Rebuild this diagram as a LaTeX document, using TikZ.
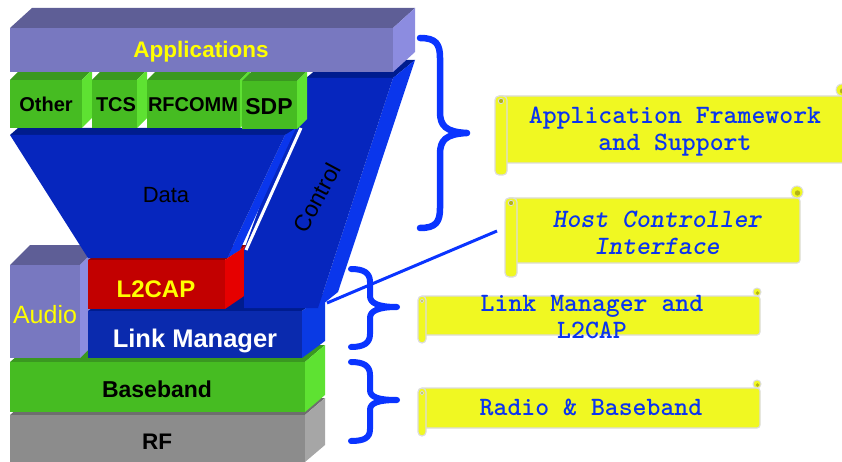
\documentclass[tikz,border=0pt]{standalone}
\usepackage{fontspec}
\setmainfont{Liberation Sans}
\usetikzlibrary{calc}

% colours of the protocol stack
\definecolor{appfront}{HTML}{7878C0}
\definecolor{apptop}{HTML}{5E5E96}
\definecolor{appside}{HTML}{8C8CE0}
\definecolor{grnfront}{HTML}{46BC22}
\definecolor{grntop}{HTML}{3A9820}
\definecolor{grnside}{HTML}{5EE232}
\definecolor{datfront}{HTML}{0626BE}
\definecolor{dattop}{HTML}{001C8E}
\definecolor{datside}{HTML}{0A36EC}
\definecolor{redfront}{HTML}{C20000}
\definecolor{redtop}{HTML}{900000}
\definecolor{redside}{HTML}{E60000}
\definecolor{lmfront}{HTML}{0A2AAE}
\definecolor{lmtop}{HTML}{001C8E}
\definecolor{lmside}{HTML}{0A3AE4}
\definecolor{rffront}{HTML}{8C8C8C}
\definecolor{rftop}{HTML}{6E6E6E}
\definecolor{rfside}{HTML}{A6A6A6}
% colours of braces and scrolls
\definecolor{braceblue}{HTML}{0A34FF}
\definecolor{scrollfill}{HTML}{F0F822}
\definecolor{scrolledge}{HTML}{DCDCDC}
\definecolor{scrollcurl}{HTML}{B4B414}
\definecolor{scrolltext}{HTML}{0A34F0}
\definecolor{labelyellow}{HTML}{FFFF00}

% a block with front face, top face and right side face
% #1,#2 front top-left; #3,#4 front bottom-right; #5,#6 depth; #7 colour prefix
\newcommand{\slab}[7]{%
  \fill[#7top] (#1,#2) -- (#1+#5,#2-#6) -- (#3+#5,#2-#6) -- (#3,#2) -- cycle;
  \fill[#7side] (#3,#2) -- (#3+#5,#2-#6) -- (#3+#5,#4-#6) -- (#3,#4) -- cycle;
  \fill[#7front] (#1,#2) rectangle (#3,#4);}

% a scroll banner: #1,#2 top-left; #3,#4 bottom-right; #5 bottom of the roll; #6 curl radius
\newcommand{\scrollshape}[6]{%
  \filldraw[fill=scrollfill, draw=scrolledge, line width=1.2pt, rounded corners=3pt]
    (#1,#2) rectangle (#3,#4);
  \filldraw[fill=scrollfill, draw=scrolledge, line width=1pt] (#3-3,#2-#6) circle[radius=#6pt];
  \fill[scrollcurl] (#3-2.5,#2-#6+1) circle[radius=#6pt*0.45];
  \filldraw[fill=scrollfill, draw=scrolledge, line width=1.2pt, rounded corners=4pt]
    (#1-2,#2) rectangle (#1-2+2*#6,#5);
  \filldraw[fill=scrollcurl, draw=scrolledge, line width=0.8pt] (#1-2+#6,#2+5) circle[radius=#6pt*0.45];}

\begin{document}
\begin{tikzpicture}[x=1pt,y=-1pt,
  stacktxt/.style={inner sep=0pt, anchor=base},
  brace/.style={draw=braceblue, line width=6.5pt, line cap=round, line join=round},
  scrolltxt/.style={font=\ttfamily\bfseries\fontsize{26.5}{27}\selectfont, text=scrolltext,
    align=center, inner sep=0pt}]
\useasboundingbox (0,0) rectangle (842,462);

% ---- lower layers
\slab{10}{415}{305}{462}{20}{17}{rf}
\slab{10}{362}{305}{412}{20}{17}{grn}
\slab{10}{265}{80}{358}{20}{20}{app}
\slab{88}{311}{302}{358}{23}{17}{lm}
\slab{88}{260}{225}{309}{22}{15}{red}

% ---- control channel
\fill[dattop] (306,78) -- (328,60) -- (415,60) -- (393,78) -- cycle;
\fill[datside] (393,78) -- (415,60) -- (338,292) -- (318,308) -- cycle;
\fill[datfront] (306,78) -- (393,78) -- (318,308) -- (244,308) -- (244,250) -- cycle;

% ---- data funnel
\fill[dattop] (10,135) -- (18,128) -- (297,128) -- (285,135) -- cycle;
\fill[datside] (285,135) -- (296,128) -- (240,250) -- (227,258) -- cycle;
\fill[datfront] (10,135) -- (285,135) -- (227,258) -- (88,258) -- cycle;
\draw[white, line width=3pt] (301,128) -- (246,250);

% ---- upper protocols
\slab{10}{80}{82}{128}{10}{10}{grn}
\slab{92}{80}{137}{128}{10}{10}{grn}
\slab{147}{80}{240}{128}{10}{10}{grn}
\slab{242}{81}{297}{129}{10}{10}{grn}
\slab{10}{28}{393}{72}{22}{20}{app}

% ---- layer names
\node[stacktxt, text=labelyellow, font=\bfseries\fontsize{22.5}{22.5}\selectfont] (apps) at (201,58) {Applications};
\node[stacktxt, font=\bfseries\fontsize{20}{20}\selectfont] (other) at (46,112) {Other};
\node[stacktxt, font=\bfseries\fontsize{20}{20}\selectfont] (tcs) at (116,112) {TCS};
\node[stacktxt, font=\bfseries\fontsize{20}{20}\selectfont] (rfcomm) at (193,112) {RFCOMM};
\node[stacktxt, font=\bfseries\fontsize{23}{23}\selectfont] (sdp) at (269,115) {SDP};
\node[stacktxt, font=\fontsize{22}{22}\selectfont] (data) at (166,203) {Data};
\node[inner sep=0pt, rotate=62, font=\fontsize{23}{23}\selectfont] (control) at (317,198) {Control};
\node[stacktxt, text=labelyellow, font=\fontsize{25}{25}\selectfont] (audio) at (45,323) {Audio};
\node[stacktxt, text=labelyellow, font=\bfseries\fontsize{24}{24}\selectfont] (l2cap) at (156,297) {L2CAP};
\node[stacktxt, text=white, font=\bfseries\fontsize{25.5}{25.5}\selectfont] (lm) at (195,347) {Link Manager};
\node[stacktxt, font=\bfseries\fontsize{23}{23}\selectfont] (bb) at (157,397) {Baseband};
\node[stacktxt, font=\bfseries\fontsize{22.5}{22.5}\selectfont] (rf) at (157,449) {RF};

% ---- braces
\draw[brace] (420,38) .. controls (436,38) and (440,44) .. (440,58) -- (440,112)
  .. controls (440,126) and (446,132) .. (467,133)
  .. controls (446,134) and (440,140) .. (440,154) -- (440,208)
  .. controls (440,222) and (436,228) .. (420,228);
\draw[brace, line width=6pt] (351,269) .. controls (364,269) and (370,273) .. (370,282) -- (370,296)
  .. controls (370,303) and (378,307) .. (397,307)
  .. controls (378,307) and (370,311) .. (370,318) -- (370,334)
  .. controls (370,343) and (364,347) .. (351,347);
\draw[brace, line width=6pt] (351,362) .. controls (364,362) and (370,366) .. (370,375) -- (370,390)
  .. controls (370,397) and (378,400) .. (397,400)
  .. controls (378,400) and (370,403) .. (370,410) -- (370,429)
  .. controls (370,438) and (364,441) .. (351,441);

% ---- scroll banners
\scrollshape{497}{96}{845}{163}{175}{6}
\scrollshape{507}{198}{800}{263}{277}{6}
\scrollshape{420}{296}{760}{335}{343}{4}
\scrollshape{420}{388}{760}{428}{436}{4}

\node[scrolltxt] (afs) at (675,132) {Application Framework\\and Support};
\node[scrolltxt, font=\ttfamily\bfseries\slshape\fontsize{26.5}{27}\selectfont] (hci) at (657,233) {Host Controller\\Interface};
\node[scrolltxt] (lml) at (592,317) {Link Manager and\\L2CAP};
\node[scrolltxt, anchor=base] (rb) at (591,415) {Radio \& Baseband};

% ---- pointer from the interface label to the link manager
\coordinate (hciend) at (497,231);
\coordinate (lmport) at (327,303);
\draw[braceblue, line width=3pt] (lmport) -- (hciend);
\end{tikzpicture}
\end{document}
